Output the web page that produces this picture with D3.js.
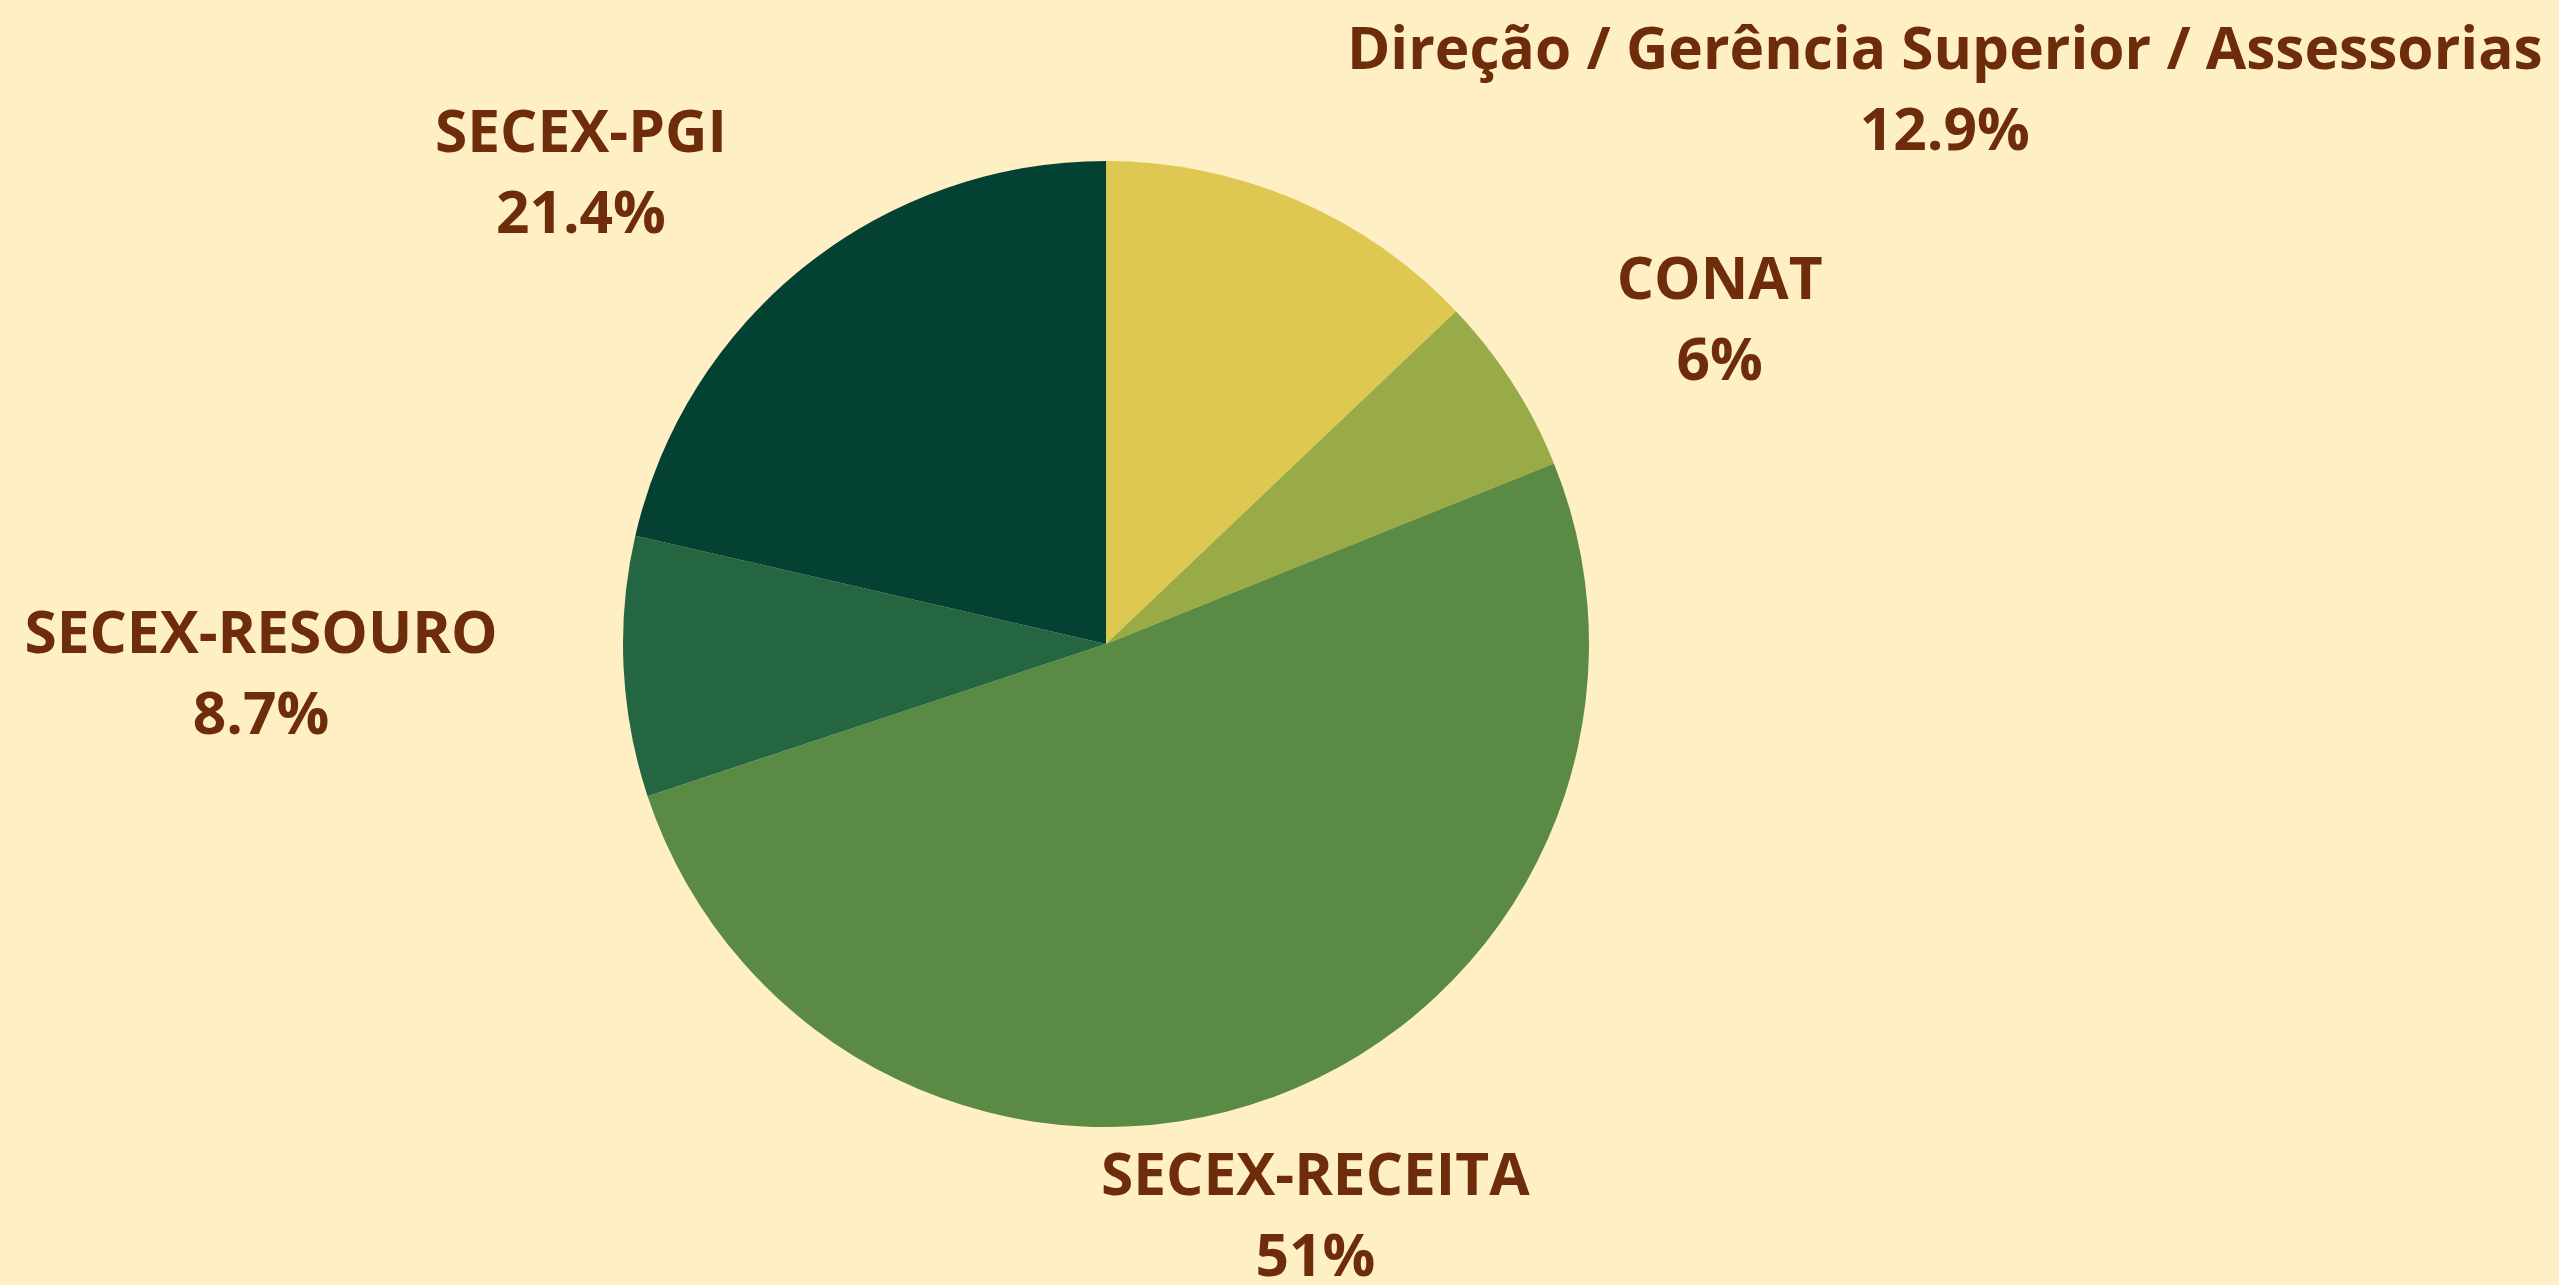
<!DOCTYPE html>
<html>
<head>
<meta charset="utf-8">
<script src="https://cdn.jsdelivr.net/npm/d3@7"></script>
<style>
  html, body { margin: 0; padding: 0; background: #fef0c4; overflow: hidden; }
  svg { display: block; }
  .rotulo { font-family: "Open Sans", sans-serif; font-weight: 700; fill: #6e2c0b; }
</style>
</head>
<body>
<div id="grafico"></div>
<script>
// Dados
const setores = ["Direção / Gerência Superior / Assessorias", "CONAT", "SECEX-RECEITA", "SECEX-RESOURO", "SECEX-PGI"];
const percentuais = [12.9, 6, 51, 8.7, 21.4];
const cores = ["#dec851", "#98ab47", "#5a8a44", "#246641", "#034133"];

// Posição dos rótulos (fração da largura / altura)
const posRotulos = [
  [0.760, 0.054],
  [0.672, 0.233],
  [0.514, 0.930],
  [0.102, 0.508],
  [0.227, 0.118]
];

const largura = 2559;
const altura = 1285;
const raio = 483;
const cx = 1106, cy = 644;
const tamFonte = 58.6;

const svg = d3.select("#grafico").append("svg")
  .attr("width", largura)
  .attr("height", altura);

svg.append("rect").attr("width", largura).attr("height", altura).attr("fill", "#fef0c4");

const dados = setores.map((s, i) => ({ setor: s, valor: percentuais[i], cor: cores[i] }));

const pie = d3.pie().value(d => d.valor).sort(null);
const arco = d3.arc().innerRadius(0).outerRadius(raio);

const g = svg.append("g").attr("transform", `translate(${cx},${cy})`);

g.selectAll("path")
  .data(pie(dados))
  .enter()
  .append("path")
  .attr("d", arco)
  .attr("fill", d => d.data.cor);

// Rótulos
const rotulos = svg.selectAll(".rotulo")
  .data(dados)
  .enter()
  .append("text")
  .attr("class", "rotulo")
  .attr("text-anchor", "middle")
  .style("font-size", tamFonte + "px");

rotulos.append("tspan")
  .attr("x", (d, i) => posRotulos[i][0] * largura)
  .attr("y", (d, i) => posRotulos[i][1] * altura)
  .text(d => d.setor);

rotulos.append("tspan")
  .attr("x", (d, i) => posRotulos[i][0] * largura)
  .attr("y", (d, i) => posRotulos[i][1] * altura + 81)
  .text(d => d.valor + "%");
</script>
</body>
</html>
